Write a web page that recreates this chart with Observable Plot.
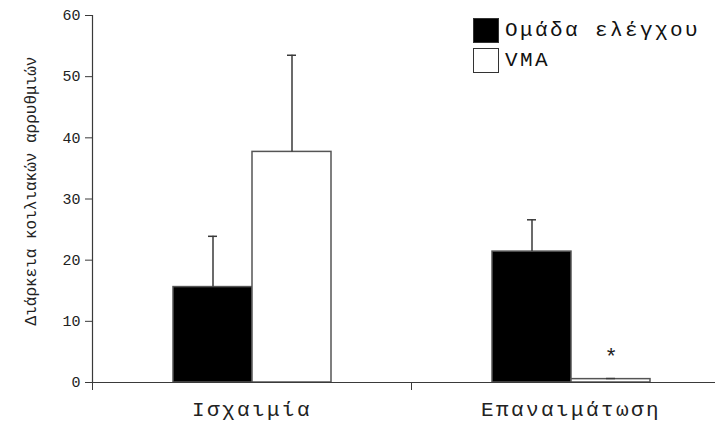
<!DOCTYPE html>
<html>
<head>
<meta charset="utf-8">
<script src="https://cdn.jsdelivr.net/npm/d3@7"></script>
<script src="https://cdn.jsdelivr.net/npm/@observablehq/plot@0.6"></script>
<style>
  html, body { margin: 0; padding: 0; background: white; }
  #wrap { position: relative; width: 715px; height: 423px; overflow: hidden; }
  #legend { position: absolute; left: 473px; top: 15px; font-family: "Liberation Mono", monospace; font-size: 21px; letter-spacing: 2.4px; color: #111; }
  .lrow { display: flex; align-items: center; height: 30px; }
  .sw { width: 24px; height: 23px; border: 1.5px solid #333; margin-right: 6px; box-sizing: content-box; }
</style>
</head>
<body>
<div id="wrap"></div>
<script>
const categories = ["Ισχαιμία", "Επαναιμάτωση"];
const groups = ["Ομάδα ελέγχου", "VMA"];
const groupFills = ["black", "white"];
const controlMeans = [15.6, 21.4];
const controlErrors = [8.3, 5.2];
const vmaMeans = [37.7, 0.55];
const vmaErrors = [15.8, 0.1];
const significance = ["", "*"];
const yTicks = [0, 10, 20, 30, 40, 50, 60];
const yLabel = "Διάρκεια κοιλιακών αρρυθμιών";

const rows = [];
categories.forEach((c, i) => {
  rows.push({category: c, group: groups[0], mean: controlMeans[i], err: controlErrors[i], fill: groupFills[0], sig: ""});
  rows.push({category: c, group: groups[1], mean: vmaMeans[i], err: vmaErrors[i], fill: groupFills[1], sig: significance[i]});
});
rows.forEach(d => d.top = d.mean + d.err);

const W = 715, H = 423, ML = 92, MR = -15, MT = 15, MB = 41;
const fxBand = (W - ML - MR) / categories.length;
const ink = "#3a3a3a";

const chart = Plot.plot({
  width: W, height: H,
  marginLeft: ML, marginRight: MR, marginTop: MT, marginBottom: MB,
  style: {fontFamily: "'Liberation Mono', monospace", color: "#222", background: "white"},
  fx: {domain: categories, padding: 0, axis: null},
  x: {domain: groups, paddingInner: 0, paddingOuter: 1, axis: null},
  y: {domain: [0, 60], axis: null},
  marks: [
    Plot.axisY({ticks: yTicks, tickSize: 7, tickPadding: 5, fontSize: 15, stroke: ink, label: null}),
    Plot.text([yLabel], {fx: () => categories[0], text: d => d, frameAnchor: "left", textAnchor: "middle", lineAnchor: "middle", rotate: -90, dx: -62, dy: -8, fontSize: 16, fill: "#222"}),
    Plot.frame({anchor: "left", facetAnchor: "left", stroke: ink, strokeWidth: 1.2}),
    Plot.barY(rows, {fx: "category", x: "group", y: "mean", fill: "fill", stroke: "#555", strokeWidth: 1.5}),
    Plot.ruleX(rows, {fx: "category", x: "group", y1: "mean", y2: "top", stroke: ink, strokeWidth: 1.5}),
    Plot.tickY(rows, {fx: "category", x: "group", y: "top", insetLeft: 35, insetRight: 35, stroke: ink, strokeWidth: 1.5}),
    Plot.ruleY([0], {stroke: ink, strokeWidth: 1.2}),
    Plot.text(rows.filter(d => d.sig), {fx: "category", x: "group", y: "top", text: "sig", dy: -22, fontSize: 22, fill: "#222"}),
    Plot.axisFx({anchor: "bottom", tickSize: 8, text: null, dx: -fxBand / 2, stroke: ink, label: null}),
    Plot.axisFx({anchor: "bottom", tickSize: 0, tickPadding: 19, fontSize: 21, fill: "#222", label: null})
  ]
});

d3.select(chart).selectAll("text")
  .filter(function() { return categories.includes(this.textContent); })
  .style("letter-spacing", "2.4px");

const wrap = document.getElementById("wrap");
wrap.appendChild(chart);

const legend = document.createElement("div");
legend.id = "legend";
groups.forEach((g, i) => {
  const row = document.createElement("div");
  row.className = "lrow";
  const sw = document.createElement("div");
  sw.className = "sw";
  sw.style.background = groupFills[i];
  const t = document.createElement("span");
  t.textContent = g;
  row.appendChild(sw);
  row.appendChild(t);
  legend.appendChild(row);
});
wrap.appendChild(legend);
</script>
</body>
</html>
